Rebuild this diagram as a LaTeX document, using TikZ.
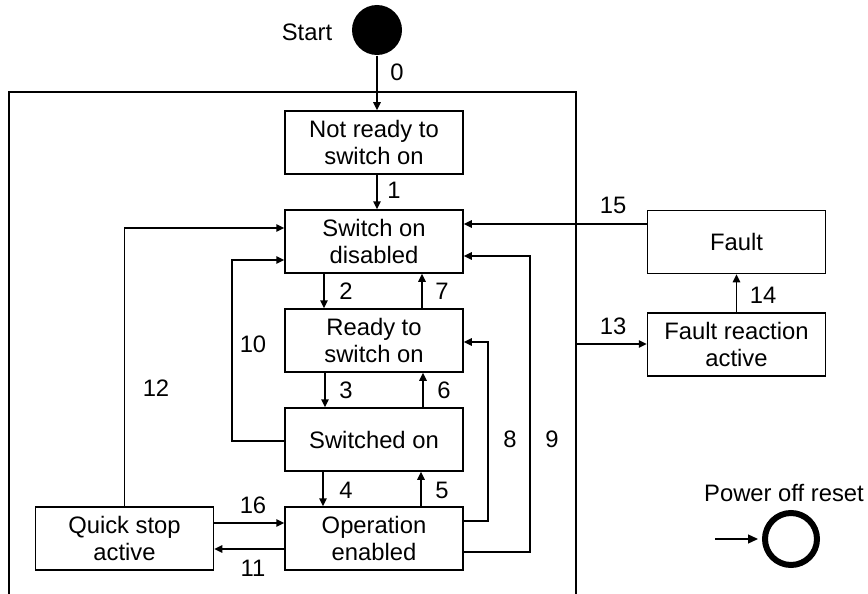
\documentclass[tikz,border=0pt]{standalone}
\usepackage{fontspec}
\setmainfont{Liberation Sans}
\usetikzlibrary{arrows.meta}
\newcommand\boxfont{\fontsize{23.8}{26.5}\selectfont}
\begin{document}
\begin{tikzpicture}[x=1pt,y=-1pt, line width=1.5pt,
  box/.style={draw, minimum width=178pt, minimum height=63pt, align=center, inner sep=0pt, font=\boxfont},
  arr/.style={-{Triangle[length=8pt,width=7.5pt]}},
  lbl/.style={font=\boxfont, inner sep=0pt}]
\useasboundingbox (0,0) rectangle (868,594);
% frame
\draw (9,594) -- (9,92) -- (576,92) -- (576,594);
% nodes
\node[circle, fill, minimum size=50pt, inner sep=0pt] (start) at (377,30) {};
\node[lbl] (startlbl) at (307,32) {Start};
\node[box] (nr) at (374,142.5) {Not ready to\\switch on};
\node[box] (sod) at (374,241.5) {Switch on\\disabled};
\node[box] (rts) at (374,340.5) {Ready to\\switch on};
\node[box] (swo) at (374,439.5) {Switched on};
\node[box] (oe) at (374,538.5) {Operation\\enabled};
\node[box] (qs) at (124.5,538.5) {Quick stop\\active};
\node[box] (fault) at (736.5,242) {Fault};
\node[box] (fra) at (736.5,344.5) {Fault reaction\\active};
\node[circle, draw, line width=6pt, minimum size=52pt, inner sep=0pt] (por) at (791,539) {};
\node[lbl] (porlbl) at (784,493) {Power off reset};
\coordinate (porin) at (715,539);
\coordinate (f13) at (576,344);
% connectors
\draw[arr] (start.south) -- (start.south |- nr.north);
\draw[arr] (nr.south -| start) -- (sod.north -| start);
\draw[arr] ([xshift=-50pt]sod.south) -- ([xshift=-50pt]rts.north);
\draw[arr] ([xshift=48pt]rts.north) -- ([xshift=48pt]sod.south);
\draw[arr] ([xshift=-49pt]rts.south) -- ([xshift=-49pt]swo.north);
\draw[arr] ([xshift=49pt]swo.north) -- ([xshift=49pt]rts.south);
\draw[arr] ([xshift=-51pt]swo.south) -- ([xshift=-51pt]oe.north);
\draw[arr] ([xshift=47pt]oe.north) -- ([xshift=47pt]swo.south);
\draw[arr] (qs.east |- 0,523) -- (oe.west |- 0,523);
\draw[arr] (oe.west |- 0,549) -- (qs.east |- 0,549);
\draw[arr] (oe.east |- 0,521) -| (488,342) -- (rts.east |- 0,342);
\draw[arr] (oe.east |- 0,552) -| (530,256) -- (sod.east |- 0,256);
\draw[arr] (qs.north) |- (sod.west |- 0,228);
\draw[arr] (swo.west |- 0,441) -| (232,260) -- (sod.west |- 0,260);
\draw[arr] (fault.west |- 0,224) -- (sod.east |- 0,224);
\draw[arr] (f13) -- (fra.west |- f13);
\draw[arr] (fra.north) -- (fault.south);
\draw[line width=1.3pt, -{Triangle[length=10pt,width=9pt]}, shorten >=4pt] (porin) -- (por.west);
% labels
\node[lbl] (l0) at (397,72) {0};
\node[lbl] (l1) at (394,190) {1};
\node[lbl] (l2) at (346,291) {2};
\node[lbl] (l7) at (442,291) {7};
\node[lbl] (l3) at (346,390) {3};
\node[lbl] (l6) at (444,390) {6};
\node[lbl] (l4) at (346,490) {4};
\node[lbl] (l5) at (442,490) {5};
\node[lbl] (l10) at (253,344) {10};
\node[lbl] (l12) at (156,388) {12};
\node[lbl] (l8) at (510,439) {8};
\node[lbl] (l9) at (552,439) {9};
\node[lbl] (l16) at (253,505) {16};
\node[lbl] (l11) at (253,568) {11};
\node[lbl] (l15) at (613,205) {15};
\node[lbl] (l13) at (613,326) {13};
\node[lbl] (l14) at (763,295) {14};
\end{tikzpicture}
\end{document}
